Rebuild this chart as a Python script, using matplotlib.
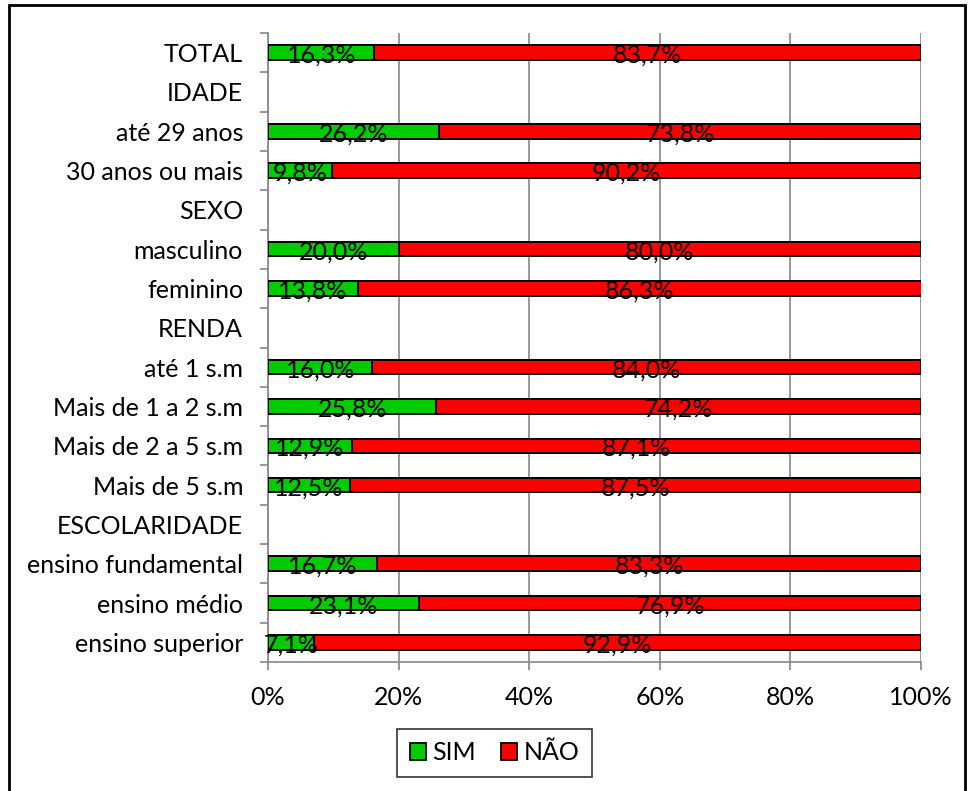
import matplotlib
matplotlib.use("Agg")
import matplotlib.pyplot as plt
from matplotlib.patches import Rectangle, Patch
from matplotlib.ticker import FixedLocator, PercentFormatter
import numpy as np

plt.rcParams['font.family'] = ['Lato', 'DejaVu Sans']

categories = ["TOTAL", "IDADE", "até 29 anos", "30 anos ou mais", "SEXO",
              "masculino", "feminino", "RENDA", "até 1 s.m", "Mais de 1 a 2 s.m",
              "Mais de 2 a 5 s.m", "Mais de 5 s.m", "ESCOLARIDADE",
              "ensino fundamental", "ensino médio", "ensino superior"]
sim = [16.3, None, 26.2, 9.8, None, 20.0, 13.8, None, 16.0, 25.8, 12.9, 12.5,
       None, 16.7, 23.1, 7.1]
nao = [83.7, None, 73.8, 90.2, None, 80.0, 86.3, None, 84.0, 74.2, 87.1, 87.5,
       None, 83.3, 76.9, 92.9]
series_names = ["SIM", "NÃO"]
colors = ["#00CC00", "#FF0000"]

W, H = 972, 791
fig = plt.figure(figsize=(W / 100, H / 100), dpi=100)
ax = fig.add_axes([268 / W, 1 - 662 / H, (921 - 268) / W, (662 - 33) / H])

n = len(categories)
y = np.arange(n)
fs = 18


def fmt(v):
    return f"{v:.1f}%".replace(".", ",")


for i in range(n):
    if sim[i] is None:
        continue
    left = 0.0
    for val, col in zip((sim[i], nao[i]), colors):
        ax.barh(y[i], val, left=left, height=0.37, color=col,
                edgecolor="black", linewidth=1.4, zorder=3)
        ax.annotate(fmt(val), (left + val / 2, y[i]), xytext=(0, -7.3),
                    textcoords="offset points", ha="center", va="baseline",
                    fontsize=fs, color="black", zorder=4)
        left += val

ax.set_xlim(0, 100)
ax.set_ylim(n - 0.5, -0.5)
ax.set_yticks(y)
ax.set_yticklabels(categories, fontsize=fs)
ax.yaxis.set_minor_locator(FixedLocator(np.arange(n + 1) - 0.5))
ax.tick_params(axis="y", which="major", length=0, pad=18)
ax.tick_params(axis="y", which="minor", length=6, color="#868686", width=1.2)
ax.set_xticks([0, 20, 40, 60, 80, 100])
ax.xaxis.set_major_formatter(PercentFormatter(decimals=0))
ax.tick_params(axis="x", length=6, color="#868686", width=1.2, labelsize=fs, pad=11)
ax.grid(axis="x", color="#868686", linewidth=1.2, zorder=0)
for side in ("top", "right"):
    ax.spines[side].set_visible(False)
for side in ("left", "bottom"):
    ax.spines[side].set_color("#868686")
    ax.spines[side].set_linewidth(1.2)

handles = [Patch(facecolor=c, edgecolor="black", linewidth=1.3) for c in colors]
leg = fig.legend(handles, series_names, loc="center",
                 bbox_to_anchor=(494.5 / W, 1 - 752.5 / H), ncol=2, fontsize=fs,
                 frameon=True, fancybox=False, edgecolor="black",
                 handlelength=0.65, handleheight=0.65, handletextpad=0.25,
                 columnspacing=1.0, borderpad=0.5, borderaxespad=0)
leg.get_frame().set_linewidth(1.2)

fig.patches.append(Rectangle((9 / W, -0.01), (965 - 9) / W, 1 - 5 / H + 0.01,
                             transform=fig.transFigure, fill=False,
                             edgecolor="black", linewidth=2))

fig.savefig("out.png", dpi=100)
